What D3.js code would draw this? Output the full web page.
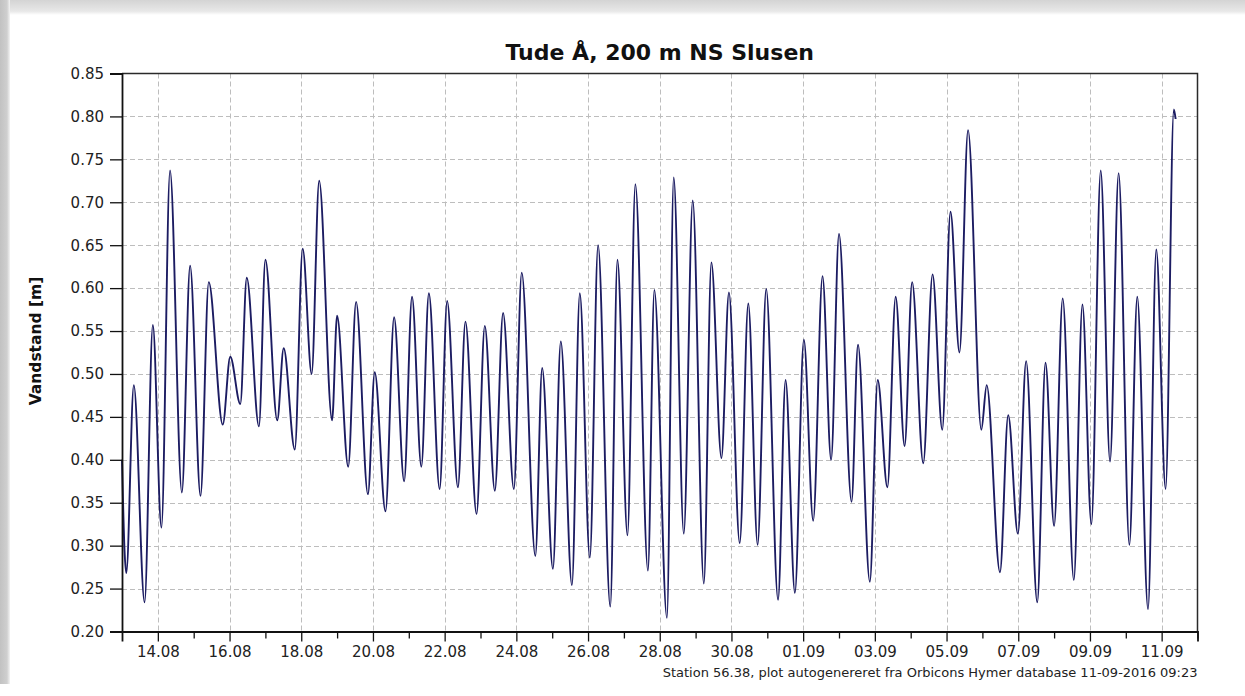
<!DOCTYPE html>
<html>
<head>
<meta charset="utf-8">
<script src="https://cdn.jsdelivr.net/npm/d3@7"></script>
<style>
  html, body { margin: 0; padding: 0; background: #ffffff; }
  svg { display: block; }
</style>
</head>
<body>
<svg id="chart" width="1245" height="696"></svg>
<script>
// ---------------- DATA ----------------
const titleText = "Tude Å, 200 m NS Slusen";
const yLabelText = "Vandstand [m]";
const footerText = "Station 56.38, plot autogenereret fra Orbicons Hymer database 11-09-2016 09:23";

// time of each turning point, in days after 13.08.2016 00:00
const dayOffset = [
  0.00, 0.07, 0.12, 0.33, 0.63, 0.86, 1.10, 1.34, 1.67, 1.90,
  2.19, 2.42, 2.81, 3.02, 3.30, 3.48, 3.82, 4.00, 4.33, 4.51,
  4.82, 5.04, 5.29, 5.50, 5.86, 6.00, 6.31, 6.53, 6.86, 7.05,
  7.35, 7.59, 7.87, 8.09, 8.35, 8.56, 8.86, 9.07, 9.37, 9.58,
  9.89, 10.12, 10.40, 10.63, 10.93, 11.15, 11.53, 11.72, 12.02, 12.24,
  12.55, 12.77, 13.05, 13.28, 13.62, 13.82, 14.10, 14.32, 14.67, 14.85,
  15.20, 15.39, 15.67, 15.92, 16.23, 16.44, 16.72, 16.93, 17.23, 17.47,
  17.73, 17.97, 18.30, 18.51, 18.77, 19.02, 19.28, 19.54, 19.78, 20.00,
  20.35, 20.53, 20.86, 21.08, 21.35, 21.58, 21.83, 22.04, 22.35, 22.61,
  22.88, 23.11, 23.36, 23.60, 23.97, 24.12, 24.49, 24.72, 24.99, 25.22,
  25.53, 25.76, 26.00, 26.24, 26.55, 26.79, 27.04, 27.30, 27.56, 27.80,
  28.10, 28.32, 28.62, 28.85, 29.11, 29.34, 29.39
];
// water level [m] at those points
const waterLevel = [
  0.400, 0.295, 0.268, 0.487, 0.234, 0.557, 0.321, 0.737, 0.362, 0.626,
  0.358, 0.607, 0.441, 0.520, 0.465, 0.612, 0.439, 0.633, 0.446, 0.530,
  0.412, 0.646, 0.500, 0.725, 0.446, 0.568, 0.392, 0.584, 0.360, 0.502,
  0.340, 0.566, 0.375, 0.590, 0.392, 0.594, 0.366, 0.585, 0.368, 0.561,
  0.337, 0.556, 0.364, 0.571, 0.366, 0.618, 0.288, 0.507, 0.273, 0.538,
  0.254, 0.594, 0.286, 0.650, 0.229, 0.633, 0.312, 0.721, 0.271, 0.598,
  0.216, 0.729, 0.314, 0.702, 0.256, 0.630, 0.402, 0.595, 0.303, 0.582,
  0.301, 0.599, 0.237, 0.493, 0.245, 0.540, 0.329, 0.614, 0.400, 0.663,
  0.351, 0.534, 0.258, 0.493, 0.368, 0.590, 0.416, 0.607, 0.396, 0.616,
  0.435, 0.689, 0.525, 0.784, 0.435, 0.487, 0.269, 0.452, 0.314, 0.515,
  0.234, 0.513, 0.323, 0.588, 0.260, 0.581, 0.325, 0.737, 0.398, 0.734,
  0.301, 0.590, 0.226, 0.645, 0.366, 0.808, 0.797
];

const xTickLabels = ["14.08","16.08","18.08","20.08","22.08","24.08","26.08","28.08",
                     "30.08","01.09","03.09","05.09","07.09","09.09","11.09"];
const xMinorLabels = ["15.08","17.08","19.08","21.08","23.08","25.08","27.08","29.08",
                      "31.08","02.09","04.09","06.09","08.09","10.09","12.09"];
const yTicks = [0.20,0.25,0.30,0.35,0.40,0.45,0.50,0.55,0.60,0.65,0.70,0.75,0.80,0.85];
const domainStart = "13.08";
const domainEnd = "12.09";

// ---------------- CHART ----------------
const svg = d3.select("#chart");
const W = 1245, H = 696;
const plot = { left: 122, right: 1197.5, top: 73.5, bottom: 631.5 };

const parseDay = s => d3.utcParse("%d.%m.%Y")(s + ".2016");
const t0 = parseDay(domainStart);
const data = dayOffset.map((d, i) => ({ date: new Date(t0.getTime() + d * 864e5), v: waterLevel[i] }));

const x = d3.scaleUtc().domain([t0, parseDay(domainEnd)]).range([plot.left, plot.right]);
const y = d3.scaleLinear().domain([0.20, 0.85]).range([plot.bottom, plot.top]);

// frame / shadow
const defs = svg.append("defs");
const gTop = defs.append("linearGradient").attr("id", "gTop").attr("x1", 0).attr("y1", 0).attr("x2", 0).attr("y2", 1);
gTop.append("stop").attr("offset", "0%").attr("stop-color", "#d4d4d4");
gTop.append("stop").attr("offset", "75%").attr("stop-color", "#e8e8e8");
gTop.append("stop").attr("offset", "100%").attr("stop-color", "#ffffff");
const gLeft = defs.append("linearGradient").attr("id", "gLeft").attr("x1", 0).attr("y1", 0).attr("x2", 1).attr("y2", 0);
gLeft.append("stop").attr("offset", "0%").attr("stop-color", "#c2c2c2");
gLeft.append("stop").attr("offset", "70%").attr("stop-color", "#cfcfcf");
gLeft.append("stop").attr("offset", "100%").attr("stop-color", "#f4f4f4");

svg.append("rect").attr("x", 0).attr("y", 0).attr("width", W).attr("height", H).attr("fill", "#ffffff");
svg.append("rect").attr("x", 0).attr("y", 0).attr("width", W).attr("height", 15).attr("fill", "url(#gTop)");
svg.append("rect").attr("x", 0).attr("y", 0).attr("width", 10).attr("height", 684).attr("fill", "url(#gLeft)");

// grid
const majorDates = xTickLabels.map(parseDay);
const minorDates = xMinorLabels.map(parseDay);
const grid = svg.append("g").attr("stroke", "#bdbdbd").attr("stroke-width", 1).attr("stroke-dasharray", "5,3");
grid.selectAll("line.h").data(yTicks.filter(v => v > 0.2 && v < 0.85)).join("line")
  .attr("x1", plot.left).attr("x2", plot.right)
  .attr("y1", d => Math.round(y(d)) + 0.5).attr("y2", d => Math.round(y(d)) + 0.5);
grid.selectAll("line.v").data(majorDates).join("line")
  .attr("y1", plot.top).attr("y2", plot.bottom)
  .attr("x1", d => Math.round(x(d)) + 0.5).attr("x2", d => Math.round(x(d)) + 0.5);

// data line
svg.append("path")
  .datum(data)
  .attr("fill", "none")
  .attr("stroke", "#1c1c62")
  .attr("stroke-width", 1.9)
  .attr("stroke-linejoin", "round")
  .attr("d", d3.line().x(d => x(d.date)).y(d => y(d.v)).curve(d3.curveMonotoneX));

// border top/right
svg.append("path")
  .attr("d", `M${plot.left},${plot.top}H${plot.right}V${plot.bottom}`)
  .attr("fill", "none").attr("stroke", "#2a2a2a").attr("stroke-width", 1.5);

// axes
const fontTick = "'DejaVu Sans', Verdana, sans-serif";
const yAxis = d3.axisLeft(y).tickValues(yTicks).tickFormat(d3.format(".2f")).tickSize(12).tickPadding(6);
const gy = svg.append("g").attr("transform", `translate(${plot.left},0)`).call(yAxis);
gy.select(".domain").attr("stroke", "#111").attr("stroke-width", 1.8);
gy.selectAll(".tick line").attr("stroke", "#111").attr("stroke-width", 1.3);
gy.selectAll(".tick text").attr("fill", "#222").style("font-family", fontTick).style("font-size", "15px");

const xAxis = d3.axisBottom(x).tickValues(majorDates)
  .tickFormat((d, i) => xTickLabels[i]).tickSize(10).tickPadding(5);
const gx = svg.append("g").attr("transform", `translate(0,${plot.bottom})`).call(xAxis);
gx.select(".domain").attr("stroke", "#111").attr("stroke-width", 1.8);
gx.selectAll(".tick line").attr("stroke", "#111").attr("stroke-width", 1.3);
gx.selectAll(".tick text").attr("fill", "#222").style("font-family", fontTick).style("font-size", "15px");

const xMinor = d3.axisBottom(x).tickValues(minorDates).tickFormat("").tickSize(7);
const gxm = svg.append("g").attr("transform", `translate(0,${plot.bottom})`).call(xMinor);
gxm.select(".domain").remove();
gxm.selectAll(".tick line").attr("stroke", "#111").attr("stroke-width", 1.3);

// title
svg.append("text")
  .attr("x", (plot.left + plot.right) / 2).attr("y", 60)
  .attr("text-anchor", "middle")
  .style("font-family", fontTick).style("font-weight", "bold").style("font-size", "22px")
  .attr("fill", "#111")
  .text(titleText);

// y label
svg.append("text")
  .attr("transform", "translate(41,341) rotate(-90)")
  .attr("text-anchor", "middle")
  .style("font-family", fontTick).style("font-weight", "bold").style("font-size", "15.5px")
  .attr("fill", "#111")
  .text(yLabelText);

// footer
svg.append("text")
  .attr("x", plot.right).attr("y", 677)
  .attr("text-anchor", "end")
  .style("font-family", fontTick).style("font-size", "13px")
  .attr("fill", "#222")
  .text(footerText);
</script>
</body>
</html>
